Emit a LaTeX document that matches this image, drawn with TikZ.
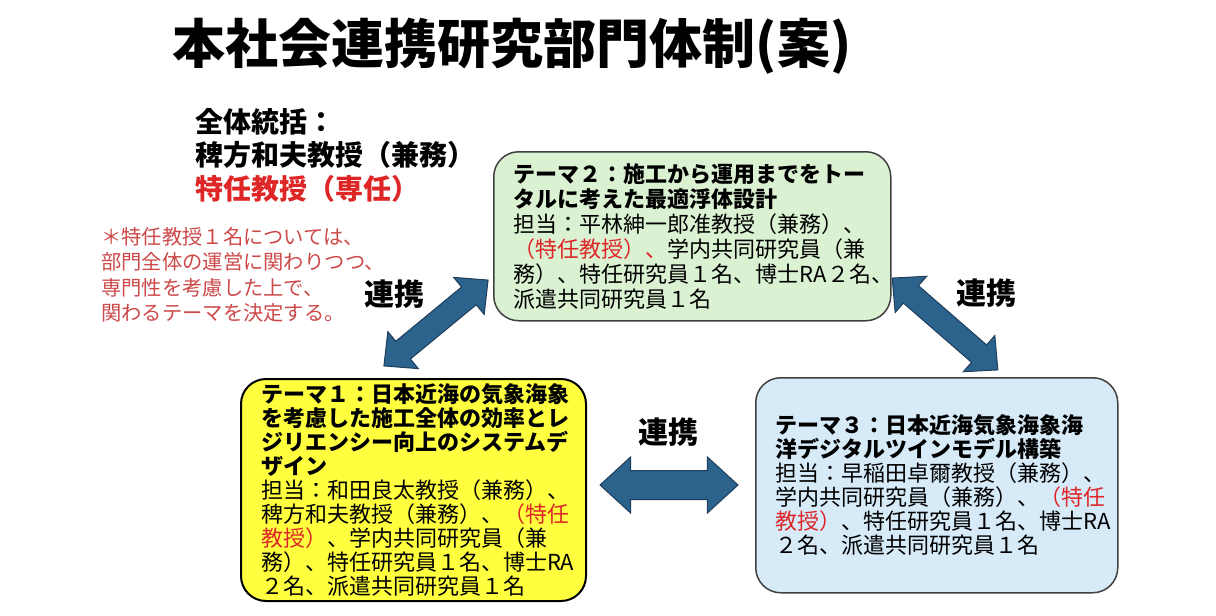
\documentclass[tikz,border=0pt]{standalone}
\usepackage{fontspec}
\setmainfont{Noto Sans CJK JP}
\usetikzlibrary{shapes.arrows,positioning}
\definecolor{themegreen}{RGB}{218,241,210}
\definecolor{themeyellow}{RGB}{255,255,64}
\definecolor{themeblue}{RGB}{214,234,248}
\definecolor{arrowblue}{RGB}{44,99,141}
\definecolor{arrowline}{RGB}{30,62,92}
\definecolor{titlered}{RGB}{222,38,38}
\definecolor{notered}{RGB}{205,72,72}
\newcommand{\hl}[1]{\textcolor{titlered}{#1}}

\begin{document}
\begin{tikzpicture}
            [x=1pt,y=-1pt,
                theme/.style={rounded corners=25pt,line width=1.5pt,anchor=north west,align=left,
                    inner xsep=20pt,font=\fontsize{22}{24}\selectfont},
                link/.style={double arrow,draw=arrowline,fill=arrowblue,line width=1pt,
                    inner xsep=0pt,double arrow tip angle=88},
                linklabel/.style={font=\fontsize{30}{30}\selectfont\bfseries}]
            \useasboundingbox (0,0) rectangle (1216,616);

            %title and the head of the unit
            \node[font=\fontsize{53}{53}\selectfont\bfseries] (title) at (512,46) {本社会連携研究部門体制(案)};
            \node[anchor=west,align=left,inner sep=0pt,font=\fontsize{28}{33.5}\selectfont\bfseries] (chief) at (195,155)
                {全体統括：\\稗方和夫教授（兼務）\\\hl{特任教授（専任）}};
            \node[anchor=west,align=left,inner sep=0pt,text=notered,font=\fontsize{20.3}{25.5}\selectfont] (note) at (101,275)
                {＊特任教授１名については、\\部門全体の運営に関わりつつ、\\専門性を考慮した上で、\\関わるテーマを決定する。};

            %the three themes
            \node[theme,draw=black!75,fill=themegreen,text width=357pt,minimum width=397pt,minimum height=169pt,
                font=\fontsize{22}{25}\selectfont] (theme2) at (493,151)
                {\textbf{テーマ２：施工から運用までをトー}\\
                 \textbf{タルに考えた最適浮体設計}\\
                 担当：平林紳一郎准教授（兼務）、\\
                 \hl{（特任教授）、}学内共同研究員（兼\\
                 務）、特任研究員１名、博士RA２名、\\
                 派遣共同研究員１名};
            \node[theme,draw=black,line width=2pt,fill=themeyellow,text width=305pt,minimum width=345pt,minimum height=222pt] (theme1) at (240,378)
                {\textbf{テーマ１：日本近海の気象海象}\\
                 \textbf{を考慮した施工全体の効率とレ}\\
                 \textbf{ジリエンシー向上のシステムデ}\\
                 \textbf{ザイン}\\
                 担当：和田良太教授（兼務）、\\
                 稗方和夫教授（兼務）、\hl{（特任}\\
                 \hl{教授）}、学内共同研究員（兼\\
                 務）、特任研究員１名、博士RA\\
                 ２名、派遣共同研究員１名};
            \node[theme,draw=black!75,fill=themeblue,text width=322pt,minimum width=362pt,minimum height=215pt] (theme3) at (755,377)
                {\textbf{テーマ３：日本近海気象海象海}\\
                 \textbf{洋デジタルツインモデル構築}\\
                 担当：早稲田卓爾教授（兼務）、\\
                 学内共同研究員（兼務）、\hl{（特任}\\
                 \hl{教授）}、特任研究員１名、博士RA\\
                 ２名、派遣共同研究員１名};

            %links between the themes
            \node[link,inner ysep=11pt,double arrow head extend=12.5pt,minimum height=135pt,rotate=39.5] (link12) at (436,323) {};
            \node[link,inner ysep=11pt,double arrow head extend=12.5pt,minimum height=140pt,rotate=-41] (link23) at (945,324) {};
            \node[link,inner ysep=14pt,double arrow head extend=13.5pt,minimum height=138pt,double arrow tip angle=85] (link13) at (669,485) {};
            \node[linklabel] at (394,294) {連携};
            \node[linklabel] at (986,293) {連携};
            \node[linklabel] at (668,432) {連携};
        \end{tikzpicture}
\end{document}
